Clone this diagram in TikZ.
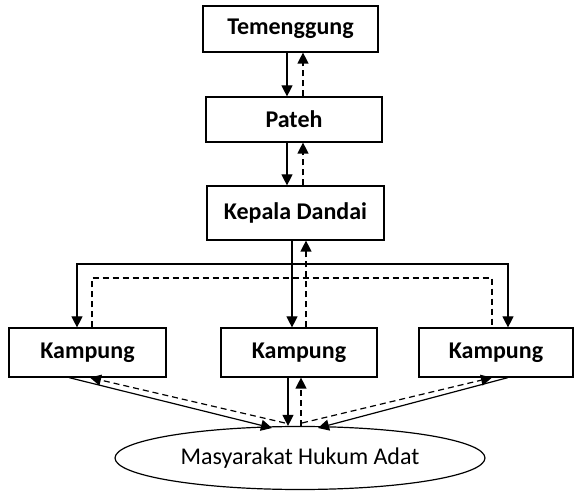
\documentclass[tikz,border=0pt]{standalone}
\usepackage{fontspec}
\setmainfont{Carlito}
\usetikzlibrary{arrows.meta,shapes.geometric}

\begin{document}
\begin{tikzpicture}[x=1pt,y=-1pt,line width=1.2pt,
   box/.style={draw,rectangle,inner sep=0pt,minimum height=46pt,font=\fontsize{24}{28}\selectfont\bfseries},
   arr/.style={-{Triangle[length=11pt,width=11pt]}},
   dsh/.style={dash pattern=on 6pt off 4pt}]
   \useasboundingbox (0,0) rectangle (574,492);
   \node[box,minimum width=175pt] (tem) at (290.5,29) {Temenggung};
   \node[box,minimum width=176pt,minimum height=45pt] (pat) at (294,119.5) {Pateh};
   \node[box,minimum width=177pt,minimum height=54pt] (kep) at (295.5,213) {Kepala Dandai};
   \node[box,minimum width=157pt,minimum height=49pt] (kam1) at (87.5,352.5) {Kampung};
   \node[box,minimum width=156pt,minimum height=49pt] (kam2) at (299,352.5) {Kampung};
   \node[box,minimum width=154pt,minimum height=49pt] (kam3) at (496,352.5) {Kampung};
   \node[draw,ellipse,inner sep=0pt,minimum width=370pt,minimum height=63pt,
     font=\fontsize{24}{28}\selectfont] (mha) at (300,458) {Masyarakat Hukum Adat};
   \coordinate (down) at (287,0);
   \coordinate (up) at (303,0);
   \draw[arr] (tem.south -| down) -- (pat.north -| down);
   \draw[arr,dsh] (pat.north -| up) -- (tem.south -| up);
   \draw[arr] (pat.south -| down) -- (kep.north -| down);
   \draw[arr,dsh] (kep.north -| up) -- (pat.south -| up);
   \coordinate (solbar) at (77,264);
   \coordinate (solend) at (508,264);
   \coordinate (dshbar) at (92,278);
   \coordinate (dshend) at (492,278);
   \coordinate (middown) at (292,0);
   \coordinate (midup) at (306,0);
   \draw[arr] (kep.south -| middown) -- (kam2.north -| middown);
   \draw[arr,dsh] (kam2.north -| midup) -- (kep.south -| midup);
   \draw[{Triangle[length=11pt,width=11pt]}-{Triangle[length=11pt,width=11pt]}]
     (kam1.north -| solbar) -- (solbar) -- (solend) -- (kam3.north -| solend);
   \draw[dsh] (kam1.north -| dshbar) -- (dshbar) -- (dshend) -- (kam3.north -| dshend);
   \coordinate (lsol) at (69,0);
   \coordinate (ldsh) at (90,0);
   \coordinate (rsol) at (508,0);
   \coordinate (rdsh) at (492,0);
   \coordinate (lsolend) at (272,428);
   \coordinate (ldshstart) at (285,423);
   \coordinate (rsolend) at (318,428);
   \coordinate (rdshstart) at (302,423);
   \coordinate (bdown) at (288,0);
   \coordinate (bup) at (301,0);
   \draw[arr] (kam1.south -| lsol) -- (lsolend);
   \draw[arr,dsh] (ldshstart) -- (kam1.south -| ldsh);
   \draw[arr] (kam2.south -| bdown) -- (mha.north -| bdown);
   \draw[arr,dsh] (mha.north -| bup) -- (kam2.south -| bup);
   \draw[arr] (kam3.south -| rsol) -- (rsolend);
   \draw[arr,dsh] (rdshstart) -- (kam3.south -| rdsh);
\end{tikzpicture}
\end{document}
